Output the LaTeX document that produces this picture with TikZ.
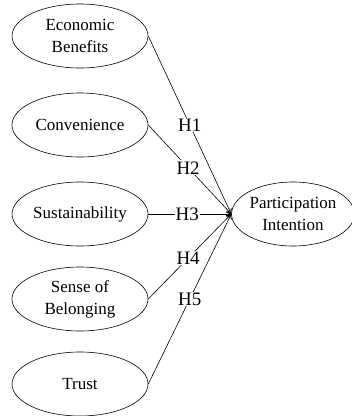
\documentclass[tikz,border=0pt]{standalone}
\usepackage{fontspec}
\setmainfont{Liberation Serif}
\usetikzlibrary{shapes.geometric,arrows.meta}
\begin{document}
\begin{tikzpicture}[x=1pt,y=-1pt,
  construct/.style={draw,ellipse,line width=0.6pt,minimum width=136pt,minimum height=64pt,inner sep=0pt,align=center,font=\fontsize{17}{22}\selectfont},
  link/.style={line width=0.6pt,-{To[length=5pt,width=6pt]}},
  hyp/.style={fill=white,inner sep=1pt,font=\fontsize{19}{22}\selectfont}]
\useasboundingbox (0,0) rectangle (352,416);
\node[construct] (eb) at (80,36) {Economic\\Benefits};
\node[construct] (cv) at (80,125) {Convenience};
\node[construct] (su) at (80,214) {Sustainability};
\node[construct] (sb) at (80,299) {Sense of\\Belonging};
\node[construct] (tr) at (80,384) {Trust};
\node[construct,minimum width=120pt] (pi) at (293,214) {Participation\\Intention};
\draw[link] (eb.east) -- node[hyp,pos=0.5] {H1} (pi.west);
\draw[link] (cv.east) -- node[hyp,pos=0.48] {H2} (pi.west);
\draw[link] (su.east) -- node[hyp,pos=0.47] {H3} (pi.west);
\draw[link] (sb.east) -- node[hyp,pos=0.48] {H4} (pi.west);
\draw[link] (tr.east) -- node[hyp,pos=0.5] {H5} (pi.west);
\end{tikzpicture}
\end{document}
